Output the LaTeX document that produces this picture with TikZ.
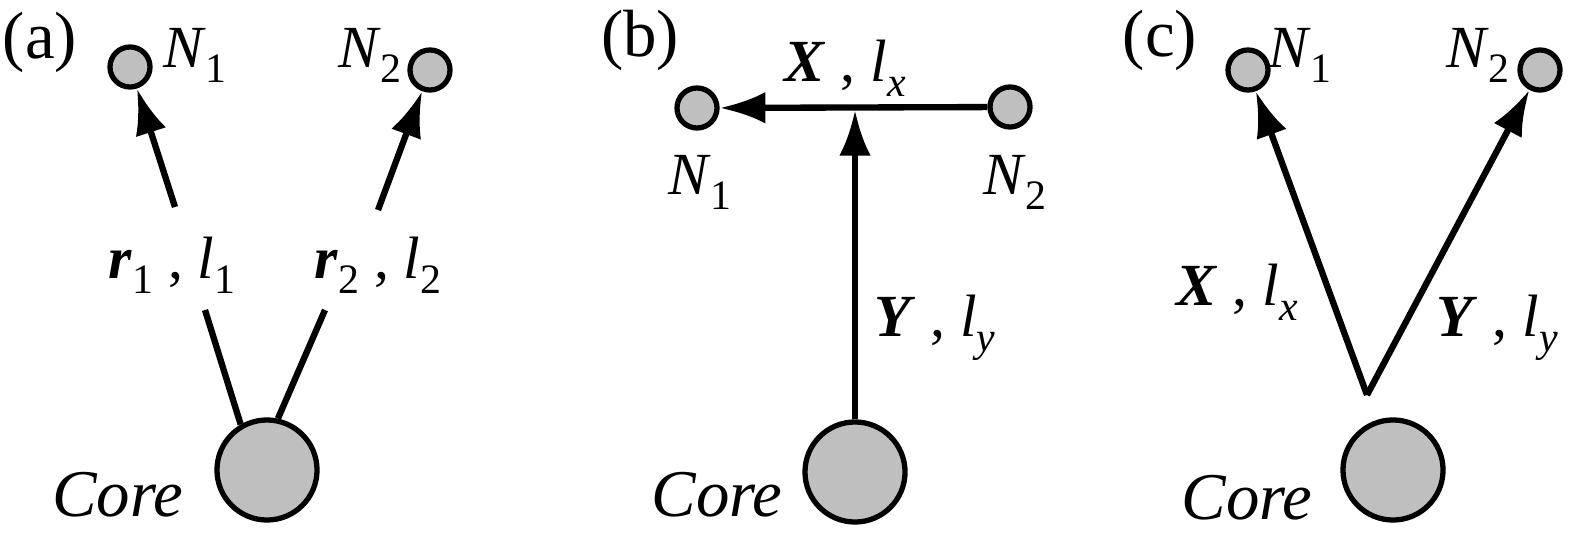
\documentclass[tikz,border=0pt]{standalone}
\usepackage{fontspec}
\setmainfont{Liberation Serif}
\usetikzlibrary{arrows.meta}
\newcommand{\vi}[1]{\textit{#1}}
\newcommand{\vb}[1]{\textbf{\textit{#1}}}
\newcommand{\sbs}[1]{\raisebox{-0.25em}{\scalebox{0.7}{#1}}}
\begin{document}
\begin{tikzpicture}[x=0.01cm,y=-0.01cm,
 sn/.style={circle,draw,line width=1.5pt,fill=black!25,inner sep=0,minimum size=0.4cm},
 cn/.style={circle,draw,line width=1.5pt,fill=black!25,inner sep=0,minimum size=1.0cm},
 ln/.style={line width=1.8pt},
 ar/.style={line width=1.8pt,-{Latex[length=13pt,width=9pt]}},
 tx/.style={font=\fontsize{17}{19}\selectfont,inner sep=0},
 ct/.style={font=\fontsize{19}{21}\selectfont\itshape,inner sep=0}]
\useasboundingbox (0,0) rectangle (1592,546);
% (a)
\node[tx,font=\fontsize{19}{21}\selectfont] (la) at (40,42) {(a)};
\node[sn] (a1) at (130,67) {};
\node[sn] (a2) at (430,70) {};
\node[cn] (ac) at (267,470) {};
\node[tx] at (195,55) {\vi{N}\sbs{1}};
\node[tx] at (370,55) {\vi{N}\sbs{2}};
\node[ct] at (118,495) {Core};
\coordinate (a1s) at (175,207); \coordinate (a1e) at (205,310);
\coordinate (a2s) at (378,210); \coordinate (a2e) at (325,310);
\draw[ar] (a1s) -- (a1);
\draw[ln] (ac.120) -- (a1e);
\draw[ar] (a2s) -- (a2);
\draw[ln] (ac.78) -- (a2e);
\node[tx] at (172,265) {\vb{r}\sbs{1} , \vi{l}\sbs{1}};
\node[tx] at (378,265) {\vb{r}\sbs{2} , \vi{l}\sbs{2}};
% (b)
\node[tx,font=\fontsize{19}{21}\selectfont] at (640,40) {(b)};
\node[sn] (b1) at (697,108) {};
\node[sn] (b2) at (1010,107) {};
\node[cn] (bc) at (855,472) {};
\node[tx] at (700,182) {\vi{N}\sbs{1}};
\node[tx] at (1015,182) {\vi{N}\sbs{2}};
\node[ct] at (717,495) {Core};
\draw[ar] (b2) -- (b1);
\coordinate (bm) at (855,110);
\draw[ar] (bc) -- (bm);
\node[tx] at (845,68) {\vb{X} , \vi{l}\sbs{\vi{x}}};
\node[tx] at (935,328) {\vb{Y} , \vi{l}\sbs{\vi{y}}};
% (c)
\node[tx,font=\fontsize{19}{21}\selectfont] at (1160,40) {(c)};
\node[sn] (c1) at (1248,70) {};
\node[sn] (c2) at (1540,70) {};
\node[cn] (cc) at (1393,470) {};
\node[tx] at (1300,55) {\vi{N}\sbs{1}};
\node[tx] at (1478,55) {\vi{N}\sbs{2}};
\node[ct] at (1247,498) {Core};
\coordinate (cap) at (1367,395);
\draw[ar] (cap) -- (c1);
\draw[ar] (cap) -- (c2);
\node[tx] at (1237,292) {\vb{X} , \vi{l}\sbs{\vi{x}}};
\node[tx] at (1497,328) {\vb{Y} , \vi{l}\sbs{\vi{y}}};
\end{tikzpicture}
\end{document}
